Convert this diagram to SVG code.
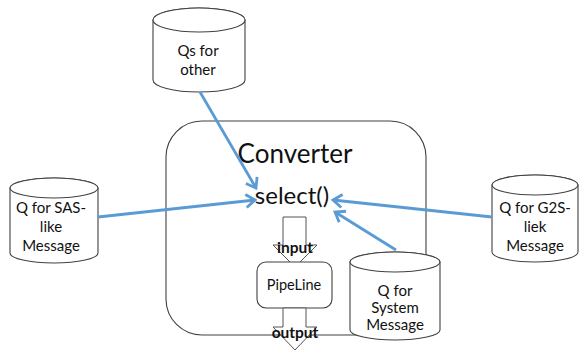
<svg xmlns="http://www.w3.org/2000/svg" width="579" height="350" viewBox="0 0 579 350">
<style>
.shape{fill:#fff;stroke:#404040;stroke-width:1.1}
.t{font-family:Lato,"Liberation Sans",sans-serif;fill:#111;text-anchor:middle}
.q{font-size:15px}
.conn{stroke:#5b9bd5;stroke-width:2.8;fill:none;marker-end:url(#arr)}
.blk{fill:#fff;stroke:#555;stroke-width:1}
.b{font-weight:bold;font-size:15.5px}
</style>
<defs>
<marker id="arr" markerUnits="userSpaceOnUse" markerWidth="16" markerHeight="16" refX="12" refY="8" orient="auto">
<path d="M3,1.5 L12,8 L3,14.5" fill="none" stroke="#5b9bd5" stroke-width="2.8"/>
</marker>
</defs>
<rect width="579" height="350" fill="#fff"/>
<g id="converter">
<rect class="shape" x="166" y="121" width="260" height="214" rx="36" ry="36"/>
<text class="t" x="295" y="163" font-size="26">Converter</text>
<text class="t" x="292" y="204" font-size="24">select()</text>
</g>
<g id="input-arrow">
<path class="blk" d="M283,217 H306 V245 H317 L295,267 L273,245 H283 Z"/>
<text class="t b" x="295" y="253">input</text>
</g>
<g id="pipeline">
<rect class="shape" x="257" y="262" width="75" height="46" rx="9" ry="9"/>
<text class="t" x="294" y="290" font-size="14.5">PipeLine</text>
</g>
<g id="output-arrow">
<path class="blk" d="M283,308 H306 V327 H317 L295,350 L273,327 H283 Z"/>
<text class="t b" x="295" y="338">output</text>
</g>
<g id="qs-other">
<path class="shape" d="M153,20 A46,12 0 0 1 245,20 V80 A46,12 0 0 1 153,80 Z"/>
<ellipse class="shape" cx="199" cy="20" rx="46" ry="12"/>
<text class="t q" x="198" y="56">Qs for</text>
<text class="t q" x="198" y="75">other</text>
</g>
<g id="q-sas">
<path class="shape" d="M10,188 A44,10 0 0 1 98,188 V253 A44,10 0 0 1 10,253 Z"/>
<ellipse class="shape" cx="54" cy="188" rx="44" ry="10"/>
<text class="t q" x="51" y="213">Q for SAS-</text>
<text class="t q" x="51" y="232">like</text>
<text class="t q" x="51" y="251">Message</text>
</g>
<g id="q-g2s">
<path class="shape" d="M492,185 A43,10 0 0 1 578,185 V252 A43,10 0 0 1 492,252 Z"/>
<ellipse class="shape" cx="535" cy="185" rx="43" ry="10"/>
<text class="t q" x="535" y="213">Q for G2S-</text>
<text class="t q" x="535" y="232">liek</text>
<text class="t q" x="535" y="251">Message</text>
</g>
<g id="q-system">
<path class="shape" d="M350,262 A45,10 0 0 1 440,262 V330 A45,10 0 0 1 350,330 Z"/>
<ellipse class="shape" cx="395" cy="262" rx="45" ry="10"/>
<text class="t q" x="395" y="296">Q for</text>
<text class="t q" x="395" y="313">System</text>
<text class="t q" x="395" y="330">Message</text>
</g>
<g id="connectors">
<line class="conn" x1="200" y1="92" x2="256" y2="188"/>
<line class="conn" x1="98" y1="217" x2="255" y2="200"/>
<line class="conn" x1="492" y1="217" x2="333" y2="200"/>
<line class="conn" x1="396" y1="250" x2="335" y2="212"/>
</g>
</svg>
